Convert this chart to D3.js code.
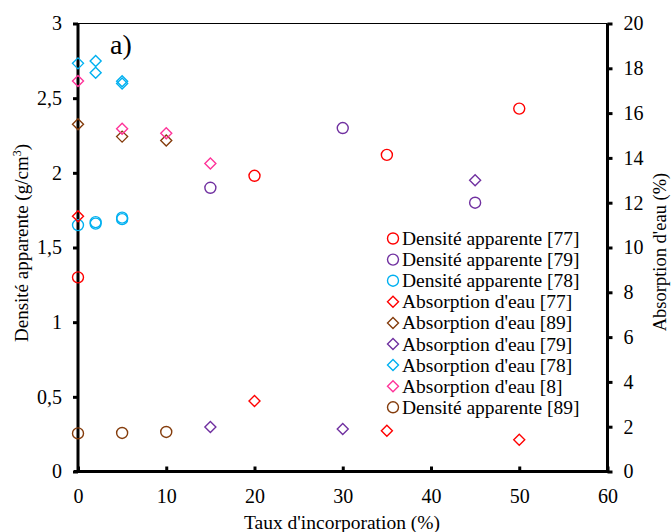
<!DOCTYPE html>
<html><head><meta charset="utf-8">
<script src="https://cdn.jsdelivr.net/npm/d3@7"></script>
<style>body{margin:0;background:#fff}svg{display:block}text{font-family:"Liberation Serif","Times New Roman",serif;fill:#000}</style>
</head><body><svg id="c" width="671" height="532"></svg>
<script>
// Data (x = Taux d'incorporation %, y = value)
const densite77 = [[0,1.30],[20,1.98],[35,2.12],[50,2.43]];
const densite79 = [[15,1.90],[30,2.30],[45,1.80]];
const densite78 = [[0,1.65],[2,1.66],[2,1.67],[5,1.69],[5,1.70]];
const absorption77 = [[0,11.4],[20,3.15],[35,1.82],[50,1.42]];
const absorption89 = [[0,15.5],[5,14.95],[10,14.78]];
const absorption79 = [[15,1.99],[30,1.90],[45,13.0]];
const absorption78 = [[0,18.22],[2,18.33],[2,17.8],[5,17.42],[5,17.32]];
const absorption8 = [[0,17.43],[5,15.3],[10,15.1],[15,13.75]];
const densite89 = [[0,0.255],[5,0.258],[10,0.265]];

const xTicks = [0,10,20,30,40,50,60];
const yLeftTicks = [0,0.5,1,1.5,2,2.5,3];
const yRightTicks = [0,2,4,6,8,10,12,14,16,18,20];

const series = [
  {name:"Densité apparente [77]", data:densite77, shape:"circle", axis:"L", color:"#FF0000"},
  {name:"Densité apparente [79]", data:densite79, shape:"circle", axis:"L", color:"#7030A0"},
  {name:"Densité apparente [78]", data:densite78, shape:"circle", axis:"L", color:"#00B0F0"},
  {name:"Absorption d'eau [77]", data:absorption77, shape:"diamond", axis:"R", color:"#FF0000"},
  {name:"Absorption d'eau [89]", data:absorption89, shape:"diamond", axis:"R", color:"#843C0C"},
  {name:"Absorption d'eau [79]", data:absorption79, shape:"diamond", axis:"R", color:"#7030A0"},
  {name:"Absorption d'eau [78]", data:absorption78, shape:"diamond", axis:"R", color:"#00B0F0"},
  {name:"Absorption d'eau [8]", data:absorption8, shape:"diamond", axis:"R", color:"#FF3399"},
  {name:"Densité apparente [89]", data:densite89, shape:"circle", axis:"L", color:"#843C0C"}
];

const svg = d3.select("#c");
const L = 78, R = 607.5, T = 23.5, B = 471.5;
const x = d3.scaleLinear().domain([0,60]).range([L,R]);
const yL = d3.scaleLinear().domain([0,3]).range([B,T]);
const yR = d3.scaleLinear().domain([0,20]).range([B,T]);
const fmt = d => String(d).replace(".", ",");

// top border
svg.append("line").attr("x1",L).attr("x2",R).attr("y1",T).attr("y2",T).attr("stroke","#000").attr("stroke-width",1);

// bottom axis
const gx = svg.append("g").attr("transform",`translate(0,${B})`)
  .call(d3.axisBottom(x).tickValues(xTicks).tickSize(-5).tickPadding(17).tickFormat(fmt));
// left axis
const gl = svg.append("g").attr("transform",`translate(${L},0)`)
  .call(d3.axisLeft(yL).tickValues(yLeftTicks).tickSize(5).tickPadding(11).tickFormat(fmt));
// right axis
const gr = svg.append("g").attr("transform",`translate(${R},0)`)
  .call(d3.axisRight(yR).tickValues(yRightTicks).tickSize(5).tickPadding(11).tickFormat(fmt));
[gx,gl,gr].forEach(g=>{
  g.select(".domain").attr("stroke","#000").attr("stroke-width",3);
  g.selectAll(".tick line").attr("stroke","#000").attr("stroke-width",3);
  g.selectAll(".tick text").style("font-family",'"Liberation Serif",serif').style("font-size","20px").attr("fill","#000");
});
gl.select(".domain").attr("d",`M0,${B+1.5}V${T}`);
gr.select(".domain").attr("d",`M0,${B+1.5}V${T}`);
gx.select(".domain").attr("d",`M${L-4},0H${R+1.5}`);

// markers
const diamond = (cx,cy,s)=>`M${cx},${cy-s}L${cx+s},${cy}L${cx},${cy+s}L${cx-s},${cy}Z`;
function drawMarker(g, shape, cx, cy, color){
  if(shape==="circle"){
    g.append("circle").attr("cx",cx).attr("cy",cy).attr("r",5.5)
      .attr("fill","none").attr("stroke",color).attr("stroke-width",1.4);
  } else {
    g.append("path").attr("d",diamond(cx,cy,5.5))
      .attr("fill","none").attr("stroke",color).attr("stroke-width",1.4);
  }
}
const gm = svg.append("g");
series.forEach(s=>{
  const ys = s.axis==="L" ? yL : yR;
  s.data.forEach(d=>drawMarker(gm, s.shape, x(d[0]), ys(d[1]), s.color));
});

// legend
const lg = svg.append("g");
series.forEach((s,i)=>{
  const cy = 238.5 + i*21.1;
  drawMarker(lg, s.shape, 393, cy, s.color);
  lg.append("text").attr("x",402).attr("y",cy+6.5).style("font-size","19.5px").text(s.name);
});

// labels
svg.append("text").attr("x",110).attr("y",53.5).style("font-size","28px").text("a)");
svg.append("text").attr("x",342).attr("y",529).attr("text-anchor","middle").style("font-size","19.5px").text("Taux d'incorporation (%)");
const ll = svg.append("text").attr("transform","translate(28,243) rotate(-90)").attr("text-anchor","middle").style("font-size","19px");
ll.append("tspan").text("Densité apparente (g/cm");
ll.append("tspan").attr("dy",-7).style("font-size","12px").text("3");
ll.append("tspan").attr("dy",7).text(")");
svg.append("text").attr("transform","translate(666,252) rotate(-90)").attr("text-anchor","middle").style("font-size","18.5px").text("Absorption d'eau (%)");
</script></body></html>
